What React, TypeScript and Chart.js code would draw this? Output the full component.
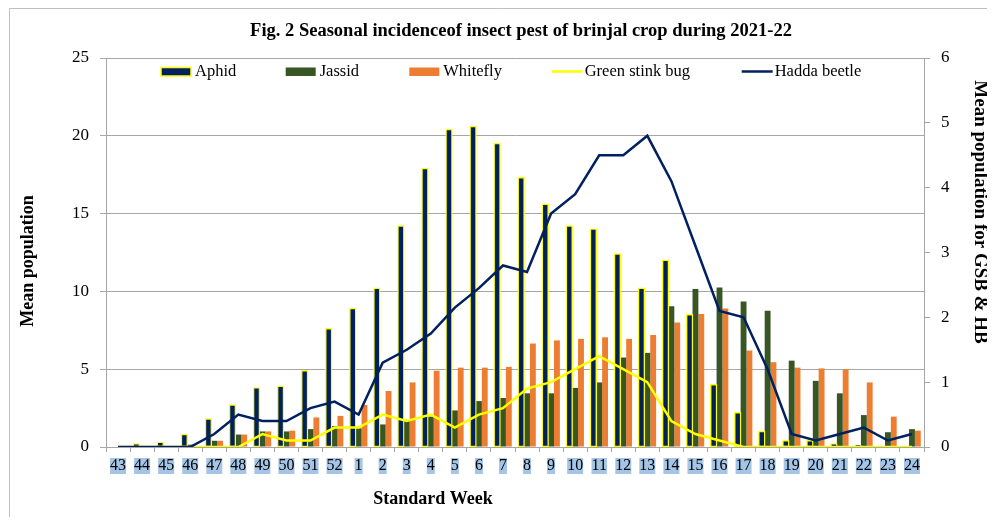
import React, { useEffect, useRef } from 'react';
import { Chart, registerables } from 'chart.js';

Chart.register(...registerables);

const weeks = ['43', '44', '45', '46', '47', '48', '49', '50', '51', '52', '1', '2', '3', '4', '5', '6', '7', '8', '9', '10', '11', '12', '13', '14', '15', '16', '17', '18', '19', '20', '21', '22', '23', '24'];

const aphid = [0, 0.2, 0.3, 0.8, 1.8, 2.7, 3.8, 3.9, 4.9, 7.6, 8.9, 10.2, 14.2, 17.9, 20.4, 20.6, 19.5, 17.3, 15.6, 14.2, 14.0, 12.4, 10.2, 12.0, 8.5, 4.0, 2.2, 1.0, 0.4, 0.4, 0.2, 0.1, 0, 0];
const jassid = [0, 0, 0, 0.15, 0.4, 0.8, 1.0, 1.0, 1.15, 1.35, 1.2, 1.45, 1.75, 1.95, 2.35, 2.95, 3.15, 3.45, 3.45, 3.8, 4.15, 5.75, 6.05, 9.05, 10.15, 10.25, 9.35, 8.75, 5.55, 4.25, 3.45, 2.05, 0.95, 1.15];
const whitefly = [0, 0, 0, 0, 0.4, 0.8, 1.0, 1.05, 1.9, 2.0, 2.7, 3.6, 4.15, 4.9, 5.1, 5.1, 5.15, 6.65, 6.85, 6.95, 7.05, 6.95, 7.2, 8.0, 8.55, 8.9, 6.2, 5.45, 5.1, 5.05, 5.0, 4.15, 1.95, 1.05];
const greenStinkBug = [0, 0, 0, 0, 0, 0, 0.2, 0.1, 0.1, 0.3, 0.3, 0.5, 0.4, 0.5, 0.3, 0.5, 0.6, 0.9, 1.0, 1.2, 1.4, 1.2, 1.0, 0.4, 0.2, 0.1, 0, 0, 0, 0, 0, 0, 0, 0];
const haddaBeetle = [0, 0, 0, 0, 0.2, 0.5, 0.4, 0.4, 0.6, 0.7, 0.5, 1.3, 1.5, 1.75, 2.15, 2.45, 2.8, 2.7, 3.6, 3.9, 4.5, 4.5, 4.8, 4.1, 3.1, 2.1, 2.0, 1.2, 0.2, 0.1, 0.2, 0.3, 0.1, 0.2];

const leftTicksMax = 25;
const rightTicksMax = 6;

const titleText = 'Fig. 2 Seasonal incidenceof insect pest of brinjal crop during 2021-22';
const xTitle = 'Standard Week';
const yTitle = 'Mean population';
const y1Title = 'Mean population for GSB & HB';

const FONT = '"Liberation Serif", "Times New Roman", serif';
const GRID = '#a6a6a6';

const overlay = {
  id: 'overlay',
  beforeDraw(chart: any) {
    const ctx = chart.ctx;
    ctx.save();
    ctx.strokeStyle = '#bfbfbf';
    ctx.lineWidth = 1;
    ctx.beginPath();
    ctx.moveTo(1.5, chart.height);
    ctx.lineTo(1.5, 0.5);
    ctx.lineTo(chart.width, 0.5);
    ctx.stroke();
    ctx.restore();
  },
  afterDraw(chart: any) {
    const ctx = chart.ctx;
    ctx.save();
    ctx.fillStyle = '#000';
    ctx.textBaseline = 'middle';
    ctx.font = `bold 18.5px ${FONT}`;
    ctx.textAlign = 'center';
    ctx.fillText(titleText, 513, 23);
    ctx.font = `bold 18px ${FONT}`;
    ctx.fillText(xTitle, 425, 491);
    ctx.save();
    ctx.translate(20, 253);
    ctx.rotate(-Math.PI / 2);
    ctx.fillText(yTitle, 0, 0);
    ctx.restore();
    ctx.save();
    ctx.font = `bold 19px ${FONT}`;
    ctx.translate(972, 204);
    ctx.rotate(Math.PI / 2);
    ctx.fillText(y1Title, 0, 0);
    ctx.restore();

    const xs = [153, 277.7, 401.3, 543.7, 733.7];
    const cy = 63.5;
    ctx.font = `16.5px ${FONT}`;
    ctx.textAlign = 'left';
    chart.data.datasets.forEach((ds: any, i: number) => {
      const x = xs[i];
      if (ds.type === 'line') {
        ctx.strokeStyle = ds.borderColor;
        ctx.lineWidth = 2.5;
        ctx.beginPath();
        ctx.moveTo(x, cy);
        ctx.lineTo(x + 31, cy);
        ctx.stroke();
        ctx.fillStyle = '#000';
        ctx.fillText(ds.label, x + 33, cy);
      } else {
        ctx.fillStyle = ds.backgroundColor;
        ctx.fillRect(x, cy - 4, 30, 8.5);
        if (ds.borderWidth) {
          ctx.strokeStyle = ds.borderColor;
          ctx.lineWidth = 1.5;
          ctx.strokeRect(x, cy - 4, 30, 8.5);
        }
        ctx.fillStyle = '#000';
        ctx.fillText(ds.label, x + 34, cy);
      }
    });
    ctx.restore();
  },
};

export default function App() {
  const ref = useRef<HTMLCanvasElement>(null);
  useEffect(() => {
    if (!ref.current) return;
    const chart = new Chart(ref.current, {
      type: 'bar',
      data: {
        labels: weeks,
        datasets: [
          { type: 'bar', label: 'Aphid', data: aphid, backgroundColor: '#002060', borderColor: '#FFFF00', borderWidth: 1.4, borderSkipped: false, inflateAmount: 0.7, yAxisID: 'y', order: 2 },
          { type: 'bar', label: 'Jassid', data: jassid, backgroundColor: '#375623', borderWidth: 0, yAxisID: 'y', order: 2 },
          { type: 'bar', label: 'Whitefly', data: whitefly, backgroundColor: '#ED7D31', borderWidth: 0, yAxisID: 'y', order: 2 },
          { type: 'line', label: 'Green stink bug', data: greenStinkBug, borderColor: '#FFFF00', backgroundColor: '#FFFF00', borderWidth: 2.5, pointRadius: 0, tension: 0, yAxisID: 'y1', order: 1 },
          { type: 'line', label: 'Hadda beetle', data: haddaBeetle, borderColor: '#002060', backgroundColor: '#002060', borderWidth: 2.5, pointRadius: 0, tension: 0, yAxisID: 'y1', order: 0 },
        ] as any,
      },
      options: {
        responsive: false,
        animation: false,
        devicePixelRatio: 1,
        layout: { padding: { left: 48, right: 19, top: 50, bottom: 30 } },
        datasets: { bar: { categoryPercentage: 0.73, barPercentage: 1 } },
        plugins: { legend: { display: false }, title: { display: false }, tooltip: { enabled: false } },
        scales: {
          x: {
            offset: true,
            grid: { offset: true, drawOnChartArea: false, drawTicks: true, tickLength: 5, color: GRID },
            border: { color: GRID },
            ticks: {
              autoSkip: false,
              maxRotation: 0,
              color: '#000',
              padding: 6,
              font: { family: FONT, size: 16, lineHeight: 1 },
              showLabelBackdrop: true,
              backdropColor: '#a4c5e6',
              backdropPadding: { top: 0, bottom: 0, left: 0, right: 0 },
            } as any,
            afterFit: (s: any) => { s.height = 40; },
          },
          y: {
            position: 'left',
            min: 0,
            max: leftTicksMax,
            ticks: { stepSize: 5, color: '#000', padding: 11, font: { family: FONT, size: 17 } },
            grid: { color: GRID, tickLength: 6 },
            border: { color: GRID },
            afterFit: (s: any) => { s.width = 50; },
          },
          y1: {
            position: 'right',
            min: 0,
            max: rightTicksMax,
            ticks: { stepSize: 1, color: '#000', padding: 11, font: { family: FONT, size: 17 } },
            grid: { drawOnChartArea: false, color: GRID, tickLength: 6 },
            border: { color: GRID },
            afterFit: (s: any) => { s.width = 50; },
          },
        },
      },
      plugins: [overlay],
    });
    return () => chart.destroy();
  }, []);
  return <canvas ref={ref} width={985} height={509} style={{ display: 'block' }} />;
}
